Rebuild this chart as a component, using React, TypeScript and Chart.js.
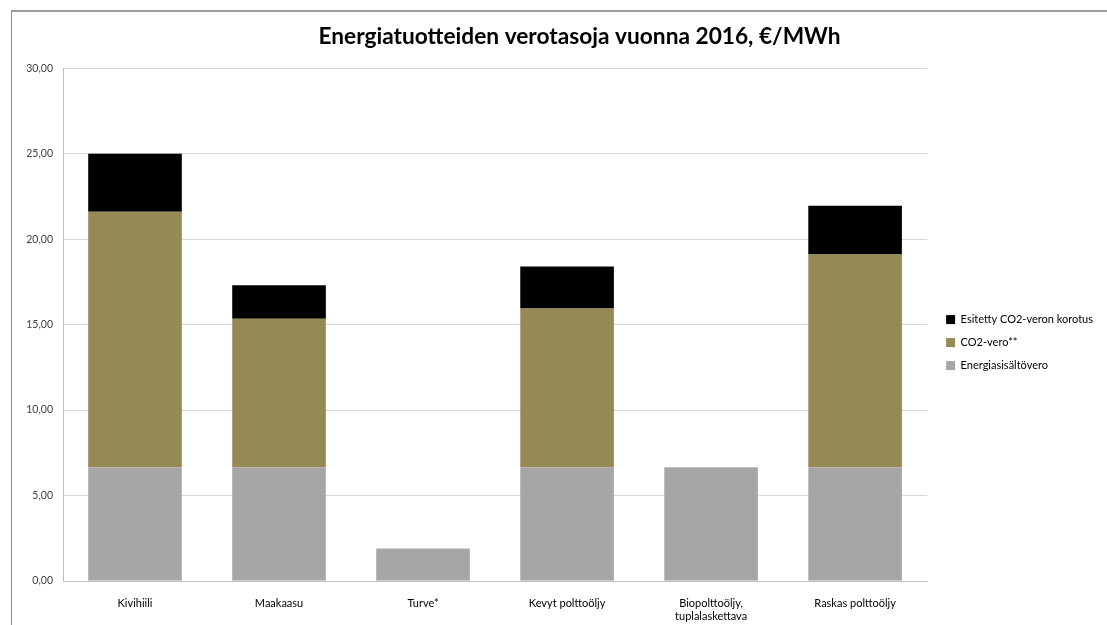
import React, { useEffect, useRef } from "react";
import { Chart, registerables } from "chart.js";

Chart.register(...registerables);

const categories: (string | string[])[] = [
  "Kivihiili",
  "Maakaasu",
  "Turve*",
  "Kevyt polttoöljy",
  ["Biopolttoöljy,", "tuplalaskettava"],
  "Raskas polttoöljy",
];
const energiasisaltovero = [6.65, 6.65, 1.9, 6.65, 6.65, 6.65];
const co2Vero = [14.95, 8.7, 0, 9.3, 0, 12.45];
const co2Korotus = [3.4, 1.95, 0, 2.45, 0, 2.85];
const yTicks = [0, 5, 10, 15, 20, 25, 30];

const FONT = "Lato, 'Noto Sans', sans-serif";

// shifts the title box (centred over the whole frame) and nudges the legend, as in the reference
const boxShift = {
  id: "boxShift",
  afterLayout(chart: any) {
    const t = chart.titleBlock;
    if (t) {
      t.left += 40;
    }
    const l = chart.legend;
    if (l) {
      l.left += 7;
      l.right += 7;
    }
  },
};

export default function App() {
  const ref = useRef<HTMLCanvasElement | null>(null);

  useEffect(() => {
    if (!ref.current) return;
    const chart = new Chart(ref.current, {
      type: "bar",
      data: {
        labels: categories,
        datasets: [
          {
            label: "Energiasisältövero",
            data: energiasisaltovero,
            backgroundColor: "#a6a6a6",
            barPercentage: 0.65,
            categoryPercentage: 1,
          },
          {
            label: "CO2-vero**",
            data: co2Vero,
            backgroundColor: "#948a54",
            barPercentage: 0.65,
            categoryPercentage: 1,
          },
          {
            label: "Esitetty CO2-veron korotus",
            data: co2Korotus,
            backgroundColor: "#000000",
            barPercentage: 0.65,
            categoryPercentage: 1,
          },
        ],
      },
      plugins: [boxShift],
      options: {
        animation: false,
        responsive: false,
        layout: { padding: { left: 11, right: 52, top: 0, bottom: 0 } },
        plugins: {
          title: {
            display: true,
            text: "Energiatuotteiden verotasoja vuonna 2016, €/MWh",
            color: "#000",
            font: { family: FONT, size: 22.7, weight: "bold" },
            padding: { top: 11, bottom: 18 },
          },
          legend: {
            position: "right",
            reverse: true,
            title: {
              display: true,
              text: " ",
              font: { family: FONT, size: 11 },
              padding: { top: 17, bottom: 18 },
            },
            labels: {
              boxWidth: 9,
              boxHeight: 9,
              padding: 12,
              color: "#000",
              font: { family: FONT, size: 11 },
            },
          },
          tooltip: { enabled: false },
        },
        scales: {
          x: {
            stacked: true,
            grid: { display: false },
            border: { color: "#bfbfbf" },
            ticks: {
              color: "#000",
              font: { family: FONT, size: 11 },
              padding: 8,
              maxRotation: 0,
            },
            afterFit: (s: any) => {
              s.height = 44;
            },
          },
          y: {
            stacked: true,
            min: 0,
            max: 30,
            afterBuildTicks: (s: any) => {
              s.ticks = yTicks.map((v) => ({ value: v }));
            },
            grid: { color: "#d9d9d9", drawTicks: false },
            border: { color: "#bfbfbf" },
            ticks: {
              color: "#404040",
              font: { family: FONT, size: 10.5 },
              padding: 10,
              callback: (v: any) => Number(v).toFixed(2).replace(".", ","),
            },
            afterFit: (s: any) => {
              s.width = 40;
            },
          },
        },
      },
    });
    return () => chart.destroy();
  }, []);

  return (
    <div
      style={{
        position: "fixed",
        left: 11,
        top: 10,
        width: 1096,
        height: 615,
        overflow: "hidden",
        borderLeft: "1px solid #8c8c8c",
        borderTop: "2px solid #9c9c9c",
        background: "#fff",
      }}
    >
      <canvas ref={ref} width={1136} height={613} style={{ display: "block" }} />
    </div>
  );
}
